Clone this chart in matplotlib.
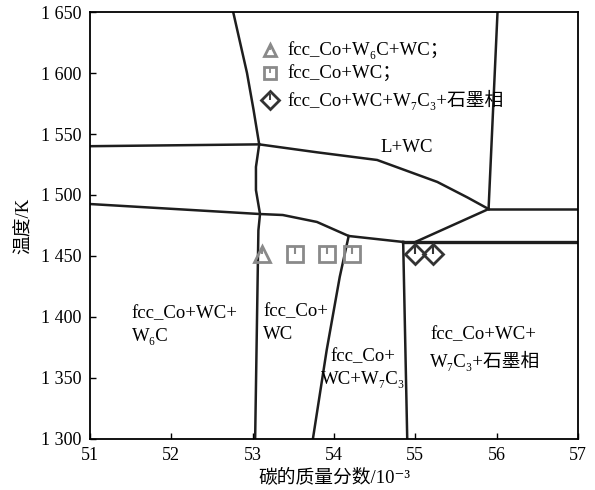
import matplotlib
matplotlib.use("Agg")
import matplotlib.pyplot as plt
from matplotlib.path import Path

plt.rcParams['font.family'] = ['Liberation Serif', 'DejaVu Serif', 'Noto Sans CJK SC']
plt.rcParams['font.size'] = 13.5

# phase boundaries (x: carbon mass fraction /1e-3, y: temperature /K)
b1_x = [52.76, 52.93, 53.01, 53.08]
b1_y = [1650, 1600, 1570, 1541.5]
b2_x = [51.0, 53.08, 53.79, 54.53, 55.27, 55.64, 55.90]
b2_y = [1540, 1541.5, 1535, 1528.7, 1510.7, 1498, 1488.5]
b3_x = [56.01, 55.90]
b3_y = [1650, 1488.5]
b4_x = [55.90, 57.0]
b4_y = [1488.5, 1488.5]
b5_x = [55.90, 55.0]
b5_y = [1488.5, 1461.5]
b6_x = [51.0, 53.09, 53.37, 53.79, 54.18, 54.85]
b6_y = [1492.6, 1484.4, 1483.6, 1477.9, 1466.4, 1461.5]
b7_x = [54.85, 57.0]
b7_y = [1461.5, 1461.5]
b8_x = [53.08, 53.04, 53.04, 53.09, 53.07, 53.03]
b8_y = [1541.5, 1523, 1504, 1484.4, 1471, 1300]
b9_x = [54.18, 54.07, 53.91, 53.74]
b9_y = [1466.4, 1432.8, 1373, 1300]
b10_x = [54.85, 54.90]
b10_y = [1461.5, 1300]

# experimental points
tri_x = [53.12]
tri_y = [1452]
sq_x = [53.52, 53.91, 54.22]
sq_y = [1452, 1452, 1452]
dia_x = [55.0, 55.22]
dia_y = [1452, 1452]

legend_labels = ['fcc_Co+W₆C+WC；', 'fcc_Co+WC；', 'fcc_Co+WC+W₇C₃+石墨相']

x_ticks = [51, 52, 53, 54, 55, 56, 57]
y_ticks = [1300, 1350, 1400, 1450, 1500, 1550, 1600, 1650]
y_tick_labels = ['1 300', '1 350', '1 400', '1 450', '1 500', '1 550', '1 600', '1 650']

fig = plt.figure(figsize=(5.95, 4.9), dpi=100)
ax = fig.add_axes([0.1513, 0.1041, 0.8202, 0.8714])

lc = '#1e1e1e'
for xs, ys in [(b1_x, b1_y), (b2_x, b2_y), (b3_x, b3_y), (b4_x, b4_y), (b5_x, b5_y),
               (b6_x, b6_y), (b8_x, b8_y), (b9_x, b9_y), (b10_x, b10_y)]:
    ax.plot(xs, ys, color=lc, lw=1.8, solid_joinstyle='round')
ax.plot(b7_x, b7_y, color=lc, lw=2.4)

tick = Path([(0, 0), (0, 1)])
grey = '#8a8a8a'
dark = '#333333'
ax.plot(tri_x, tri_y, '^', ms=11, mfc='none', mec=grey, mew=2)
ax.plot(tri_x, tri_y, marker=tick, ms=10, ls='none', mec=grey, mew=1.5)
ax.plot(sq_x, sq_y, 's', ms=12, mfc='none', mec=grey, mew=2)
ax.plot(sq_x, sq_y, marker=tick, ms=11, ls='none', mec=grey, mew=1.5)
ax.plot(dia_x, dia_y, 'D', ms=10, mfc='none', mec=dark, mew=2)
ax.plot(dia_x, dia_y, marker=tick, ms=13, ls='none', mec=dark, mew=1.5)

# legend drawn by hand
leg_y = [0.910, 0.857, 0.794]
leg_m = ['^', 's', 'D']
leg_c = [grey, grey, dark]
for yy, m, c, lab in zip(leg_y, leg_m, leg_c, legend_labels):
    ax.plot([0.369], [yy], m, ms=9, mfc='none', mec=c, mew=2, transform=ax.transAxes)
    ax.plot([0.369], [yy], marker=tick, ms=9, ls='none', mec=c, mew=1.3, transform=ax.transAxes)
    ax.text(0.405, yy, lab, transform=ax.transAxes, va='center', ha='left')

# region labels
ax.text(54.57, 1539, 'L+WC', va='center', ha='left')
ax.text(51.51, 1393, 'fcc_Co+WC+\nW₆C', va='center', ha='left', linespacing=1.45)
ax.text(53.13, 1395, 'fcc_Co+\nWC', va='center', ha='left', linespacing=1.45)
ax.text(54.36, 1358, 'fcc_Co+\nWC+W₇C₃', va='center', ha='center', linespacing=1.45)
ax.text(55.18, 1374, 'fcc_Co+WC+\nW₇C₃+石墨相', va='center', ha='left', linespacing=1.45)

ax.set_xlim(51, 57)
ax.set_ylim(1300, 1650)
ax.set_xticks(x_ticks)
ax.set_yticks(y_ticks)
ax.set_yticklabels(y_tick_labels)
ax.tick_params(direction='in', length=4, width=1, labelsize=13, pad=6)
for s in ax.spines.values():
    s.set_linewidth(1.3)

ax.set_xlabel('碳的质量分数/10⁻³', fontsize=13.5, labelpad=3)
ax.set_ylabel('温度/K', fontsize=13.5, labelpad=6)

fig.savefig('out.png', dpi=100)
